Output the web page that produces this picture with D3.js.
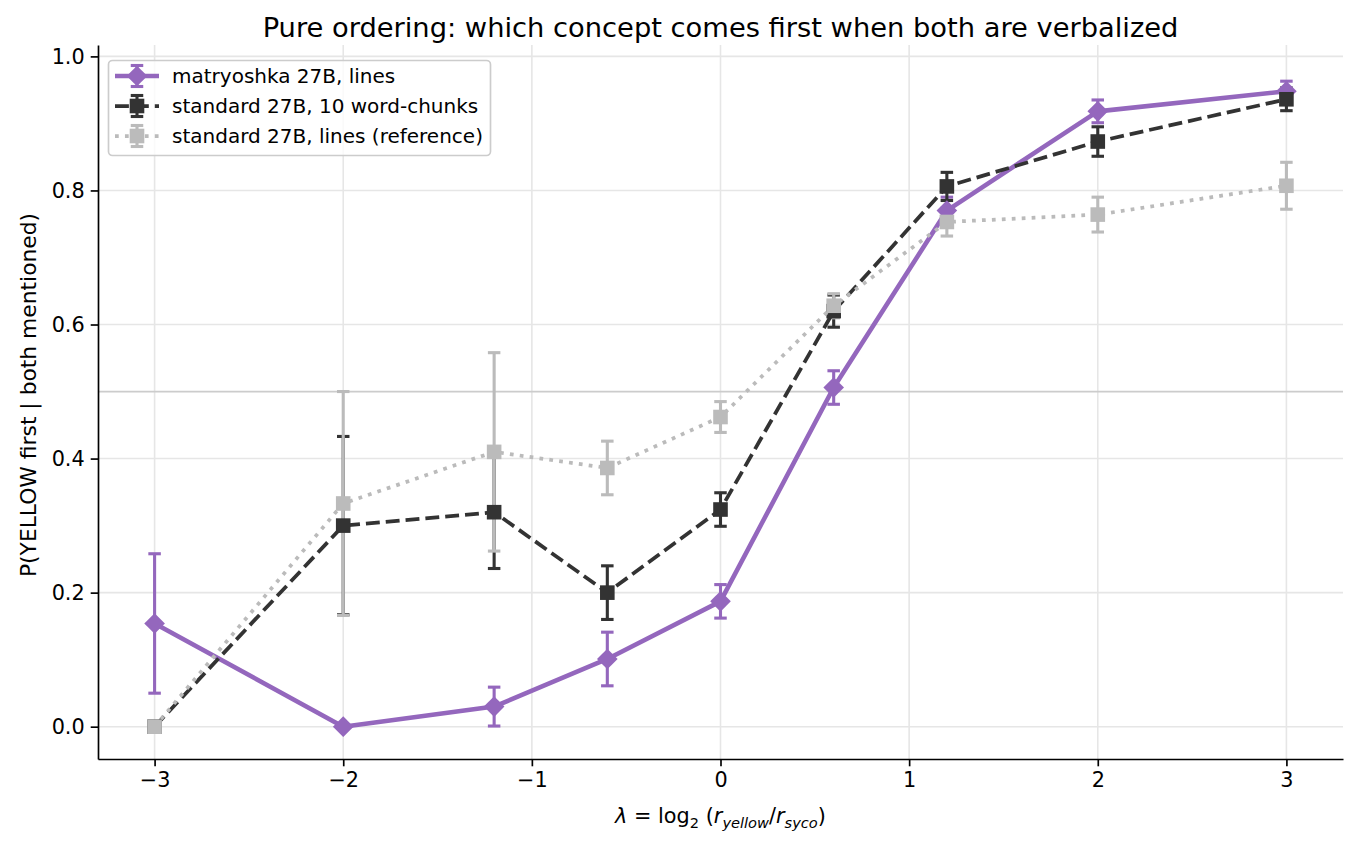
<!DOCTYPE html>
<html>
<head>
<meta charset="utf-8">
<script src="https://cdn.jsdelivr.net/npm/d3@7"></script>
<style>
body { margin: 0; background: #fff; }
text { font-family: "DejaVu Sans", sans-serif; fill: #000; }
</style>
</head>
<body>
<svg></svg>
<script>
// values
var lambdas = [-3, -2, -1.2, -0.6, 0, 0.6, 1.2, 2, 3];

var matryoshkaVals = [0.154, 0.0, 0.030, 0.101, 0.187, 0.506, 0.770, 0.918, 0.948];
var matryoshkaErr  = [0.104, 0.0, 0.029, 0.040, 0.025, 0.025, 0.020, 0.017, 0.015];

var chunksVals = [0.0, 0.300, 0.320, 0.200, 0.324, 0.620, 0.806, 0.873, 0.936];
var chunksErr  = [0.0, 0.133, 0.084, 0.040, 0.025, 0.024, 0.021, 0.022, 0.017];

var referenceVals = [0.0, 0.333, 0.410, 0.386, 0.462, 0.628, 0.753, 0.764, 0.807];
var referenceErr  = [0.0, 0.167, 0.148, 0.040, 0.023, 0.018, 0.021, 0.026, 0.035];

var seriesNames = ['matryoshka 27B, lines', 'standard 27B, 10 word-chunks', 'standard 27B, lines (reference)'];
var xTicks = [-3, -2, -1, 0, 1, 2, 3];
var yTicks = [0, 0.2, 0.4, 0.6, 0.8, 1.0];

var svgWidth = 1359, svgHeight = 846;
var plotLeft = 98, plotRight = 1343, plotTop = 45, plotBottom = 759;

var svg = d3.select('svg')
    .attr('width', svgWidth)
    .attr('height', svgHeight);

var xScale = d3.scaleLinear()
    .domain([-3.3, 3.3])
    .range([plotLeft, plotRight]);

var yScale = d3.scaleLinear()
    .domain([-0.0482, 1.017])
    .range([plotBottom, plotTop]);

// series styles (matplotlib-like)
var series = [
    {name: seriesNames[0], vals: matryoshkaVals, err: matryoshkaErr, color: '#9467bd', lw: 4.6, dash: null, marker: 'diamond'},
    {name: seriesNames[1], vals: chunksVals, err: chunksErr, color: '#333333', lw: 3.75, dash: '13.9,6', marker: 'square'},
    {name: seriesNames[2], vals: referenceVals, err: referenceErr, color: '#bbbbbb', lw: 3.75, dash: '3.75,6.2', marker: 'square'}
];

// grid
var grid = svg.append('g');
grid.selectAll('.vgrid')
    .data(xTicks)
    .enter()
    .append('line')
    .attr('x1', function(d) { return xScale(d); })
    .attr('x2', function(d) { return xScale(d); })
    .attr('y1', plotTop)
    .attr('y2', plotBottom)
    .attr('stroke', '#e6e6e6')
    .attr('stroke-width', 1.6);
grid.selectAll('.hgrid')
    .data(yTicks)
    .enter()
    .append('line')
    .attr('x1', plotLeft)
    .attr('x2', plotRight)
    .attr('y1', function(d) { return yScale(d); })
    .attr('y2', function(d) { return yScale(d); })
    .attr('stroke', '#e6e6e6')
    .attr('stroke-width', 1.6);

// 0.5 reference line
svg.append('line')
    .attr('x1', plotLeft)
    .attr('x2', plotRight)
    .attr('y1', yScale(0.5))
    .attr('y2', yScale(0.5))
    .attr('stroke', '#cccccc')
    .attr('stroke-width', 1.7);

// error bars first, then lines + markers (like matplotlib zorder)
var capHalf = 6.25;
series.forEach(function(s) {
    var g = svg.append('g')
        .attr('stroke', s.color)
        .attr('stroke-width', 3.1);
    s.vals.forEach(function(v, i) {
        var x = xScale(lambdas[i]);
        var yTop = yScale(v + s.err[i]);
        var yBot = yScale(v - s.err[i]);
        g.append('line').attr('x1', x).attr('x2', x).attr('y1', yTop).attr('y2', yBot);
        g.append('line').attr('x1', x - capHalf).attr('x2', x + capHalf).attr('y1', yTop).attr('y2', yTop);
        g.append('line').attr('x1', x - capHalf).attr('x2', x + capHalf).attr('y1', yBot).attr('y2', yBot);
    });
});

var line = d3.line()
    .x(function(d, i) { return xScale(lambdas[i]); })
    .y(function(d) { return yScale(d); });

function drawMarker(sel, x, y, s) {
    var size = 14.6;
    var r = sel.append('rect')
        .attr('x', x - size / 2)
        .attr('y', y - size / 2)
        .attr('width', size)
        .attr('height', size)
        .attr('fill', s.color);
    if (s.marker === 'diamond') {
        r.attr('transform', 'rotate(45,' + x + ',' + y + ')');
    }
}

series.forEach(function(s) {
    var g = svg.append('g');
    g.append('path')
        .datum(s.vals)
        .attr('d', line)
        .attr('fill', 'none')
        .attr('stroke', s.color)
        .attr('stroke-width', s.lw)
        .attr('stroke-linejoin', 'round')
        .attr('stroke-dasharray', s.dash);
    s.vals.forEach(function(v, i) {
        drawMarker(g, xScale(lambdas[i]), yScale(v), s);
    });
});

// axes
var xAxis = d3.axisBottom(xScale)
    .tickValues(xTicks)
    .tickSize(7.3)
    .tickSizeOuter(0)
    .tickPadding(6)
    .tickFormat(d3.format('d'));
var yAxis = d3.axisLeft(yScale)
    .tickValues(yTicks)
    .tickSize(7.3)
    .tickSizeOuter(0)
    .tickPadding(6)
    .tickFormat(d3.format('.1f'));

var gx = svg.append('g')
    .attr('transform', 'translate(0,' + plotBottom + ')')
    .call(xAxis);
var gy = svg.append('g')
    .attr('transform', 'translate(' + plotLeft + ',0)')
    .call(yAxis);

[gx, gy].forEach(function(g) {
    g.select('.domain').attr('stroke', '#000').attr('stroke-width', 1.67);
    g.selectAll('.tick line').attr('stroke', '#000').attr('stroke-width', 1.67);
    g.selectAll('.tick text')
        .style('font-family', '"DejaVu Sans", sans-serif')
        .style('font-size', '20.8px')
        .attr('fill', '#000');
});

// title
svg.append('text')
    .attr('x', (plotLeft + plotRight) / 2)
    .attr('y', 37)
    .attr('text-anchor', 'middle')
    .style('font-size', '27.3px')
    .text('Pure ordering: which concept comes first when both are verbalized');

// y label
svg.append('text')
    .attr('transform', 'translate(36,395) rotate(-90)')
    .attr('text-anchor', 'middle')
    .style('font-size', '21.8px')
    .text('P(YELLOW first | both mentioned)');

// x label with math-like parts
var xl = svg.append('text')
    .attr('x', (plotLeft + plotRight) / 2)
    .attr('y', 823)
    .attr('text-anchor', 'middle')
    .style('font-size', '20.8px')
    .style('white-space', 'pre');
var parts = [
    {t: 'λ', it: true},
    {t: ' = log'},
    {t: '2', sub: true},
    {t: ' ('},
    {t: 'r', it: true},
    {t: 'yellow', it: true, sub: true},
    {t: '/'},
    {t: 'r', it: true},
    {t: 'syco', it: true, sub: true},
    {t: ')'}
];
var wasSub = false;
parts.forEach(function(p) {
    var ts = xl.append('tspan').text(p.t);
    if (p.it) ts.style('font-style', 'italic');
    if (p.sub) {
        ts.style('font-size', '14.6px');
        if (!wasSub) ts.attr('dy', 4.5);
    } else if (wasSub) {
        ts.attr('dy', -4.5);
    }
    wasSub = !!p.sub;
});

// legend
var legend = svg.append('g');
legend.append('rect')
    .attr('x', 108.5)
    .attr('y', 60.5)
    .attr('width', 382)
    .attr('height', 95)
    .attr('rx', 4)
    .attr('fill', '#fff')
    .attr('fill-opacity', 0.8)
    .attr('stroke', '#cccccc')
    .attr('stroke-width', 1.67);

var rowY = [76, 106, 136];
series.forEach(function(s, i) {
    var cy = rowY[i], cx = 137;
    var g = legend.append('g');
    var eg = g.append('g').attr('stroke', s.color).attr('stroke-width', 3.1);
    eg.append('line').attr('x1', cx).attr('x2', cx).attr('y1', cy - 10.5).attr('y2', cy + 10.5);
    eg.append('line').attr('x1', cx - capHalf).attr('x2', cx + capHalf).attr('y1', cy - 10.5).attr('y2', cy - 10.5);
    eg.append('line').attr('x1', cx - capHalf).attr('x2', cx + capHalf).attr('y1', cy + 10.5).attr('y2', cy + 10.5);
    g.append('line')
        .attr('x1', 115).attr('x2', 159)
        .attr('y1', cy).attr('y2', cy)
        .attr('stroke', s.color)
        .attr('stroke-width', s.lw)
        .attr('stroke-dasharray', s.dash);
    drawMarker(g, cx, cy, s);
    g.append('text')
        .attr('x', 172)
        .attr('y', cy + 7)
        .style('font-size', '20px')
        .text(s.name);
});
</script>
</body>
</html>
